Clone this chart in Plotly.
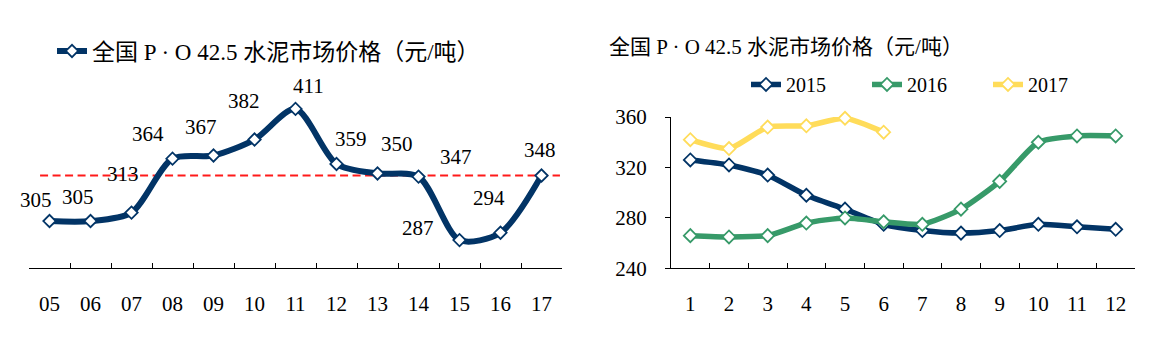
import plotly.graph_objects as go

# ---------------- data ----------------
years_left = ["05", "06", "07", "08", "09", "10", "11", "12", "13", "14", "15", "16", "17"]
price_left = [305, 305, 313, 364, 367, 382, 411, 359, 350, 347, 287, 294, 348]
reference_level = 348

months = ["1", "2", "3", "4", "5", "6", "7", "8", "9", "10", "11", "12"]
price_2015 = [326, 322, 314, 298, 287, 275, 270, 268, 270, 275, 273, 271]
price_2016 = [266, 265, 266, 276, 280, 277, 275, 287, 309, 340, 345, 345]
price_2017 = [342, 335, 352, 353, 359, 348]

left_name = "全国 P · O 42.5 水泥市场价格（元/吨）"
right_title = "全国 P · O 42.5 水泥市场价格（元/吨）"
y_ticks_right = [240, 280, 320, 360]

# label pixel offsets (dx right, dy down) for each left-chart data label
label_dx = [-14, -13, -9, -25, -13, -11, 13, 14, 19, 37, -42, -12, -2]
label_dy = [-21, -24, -39, -25, -28, -39, -23, -25, -29, -20, -12, -35, -26]

# ---------------- styles ----------------
W, H = 1163, 339
NAVY = "#023466"
GREEN = "#379A69"
YELLOW = "#FFDC5A"
FONT = "Times New Roman, Liberation Serif, Noto Sans CJK SC, serif"


def px_x(p):
    return p / W


def px_y(p):
    return 1 - p / H


fig = go.Figure()

fig.add_trace(go.Scatter(
    x=years_left, y=price_left, name=left_name, mode="lines+markers",
    line=dict(color=NAVY, width=6, shape="spline", smoothing=0.8),
    marker=dict(symbol="diamond", size=9.5, color="white",
                line=dict(color=NAVY, width=1.8)),
    xaxis="x", yaxis="y", legend="legend", cliponaxis=False,
))

for name, vals, col in [("2015", price_2015, NAVY), ("2016", price_2016, GREEN),
                        ("2017", price_2017, YELLOW)]:
    fig.add_trace(go.Scatter(
        x=months[:len(vals)], y=vals, name=name, mode="lines+markers",
        line=dict(color=col, width=5.5, shape="spline", smoothing=0.6),
        marker=dict(symbol="diamond", size=10, color="white",
                    line=dict(color=col, width=1.8)),
        xaxis="x2", yaxis="y2", legend="legend2", cliponaxis=False,
    ))

# data labels on the left chart (x given as category index)
for i, (v, dx, dy) in enumerate(zip(price_left, label_dx, label_dy)):
    fig.add_annotation(x=i, y=v, xref="x", yref="y", text=str(v), showarrow=False,
                       xshift=dx, yshift=-dy, font=dict(family=FONT, size=21, color="black"))

# reference dashed line
fig.add_shape(type="line", xref="x", yref="y", x0=-0.23, x1=12.45,
              y0=reference_level, y1=reference_level,
              line=dict(color="#FF1A1A", width=2, dash="8px,4.5px"), layer="below")

# right chart title
fig.add_annotation(x=px_x(607), y=px_y(38), xref="paper", yref="paper", xanchor="left",
                   yanchor="middle", text=right_title, showarrow=False,
                   font=dict(family=FONT, size=21, color="black"))

left_top_px = 60
px_per_unit = 1.139
y_bot_val = 305 - (276 - 225) / px_per_unit
y_top_val = 305 + (225 - left_top_px) / px_per_unit

fig.update_layout(
    width=W, height=H, margin=dict(l=0, r=0, t=0, b=0),
    paper_bgcolor="white", plot_bgcolor="white",
    font=dict(family=FONT, size=21, color="black"),
    xaxis=dict(domain=[px_x(29), px_x(562)], type="category", anchor="y",
               range=[-0.5, 12.5], showline=True, linecolor="black", linewidth=1.3,
               ticks="inside", ticklen=5, tickcolor="black", tickwidth=1.3,
               tickson="boundaries", showgrid=False, zeroline=False,
               ticklabelstandoff=16, tickfont=dict(size=21)),
    yaxis=dict(domain=[px_y(276), px_y(left_top_px)], anchor="x",
               range=[y_bot_val, y_top_val], visible=False, fixedrange=True),
    xaxis2=dict(domain=[px_x(671), px_x(1135)], type="category", anchor="y2",
                range=[-0.5, 11.5], showline=True, linecolor="black", linewidth=1.3,
                ticks="inside", ticklen=5, tickcolor="black", tickwidth=1.3,
                tickson="boundaries", showgrid=False, zeroline=False,
                ticklabelstandoff=16, tickfont=dict(size=21)),
    yaxis2=dict(domain=[px_y(276), px_y(113)], anchor="x2", range=[240, 360],
                tickvals=y_ticks_right, showline=True, linecolor="black", linewidth=1.3,
                ticks="outside", ticklen=5, tickcolor="black", tickwidth=1.3,
                showgrid=False, zeroline=False, ticklabelstandoff=14,
                tickfont=dict(size=21)),
    legend=dict(x=px_x(52), y=px_y(42), xanchor="left", yanchor="middle",
                orientation="h", font=dict(family=FONT, size=23),
                bgcolor="rgba(0,0,0,0)", itemclick=False),
    legend2=dict(x=px_x(746), y=px_y(78), xanchor="left", yanchor="middle",
                 orientation="h", font=dict(family=FONT, size=20),
                 bgcolor="rgba(0,0,0,0)", entrywidth=76, entrywidthmode="pixels"),
    showlegend=True,
)

fig.write_html("out.html")
